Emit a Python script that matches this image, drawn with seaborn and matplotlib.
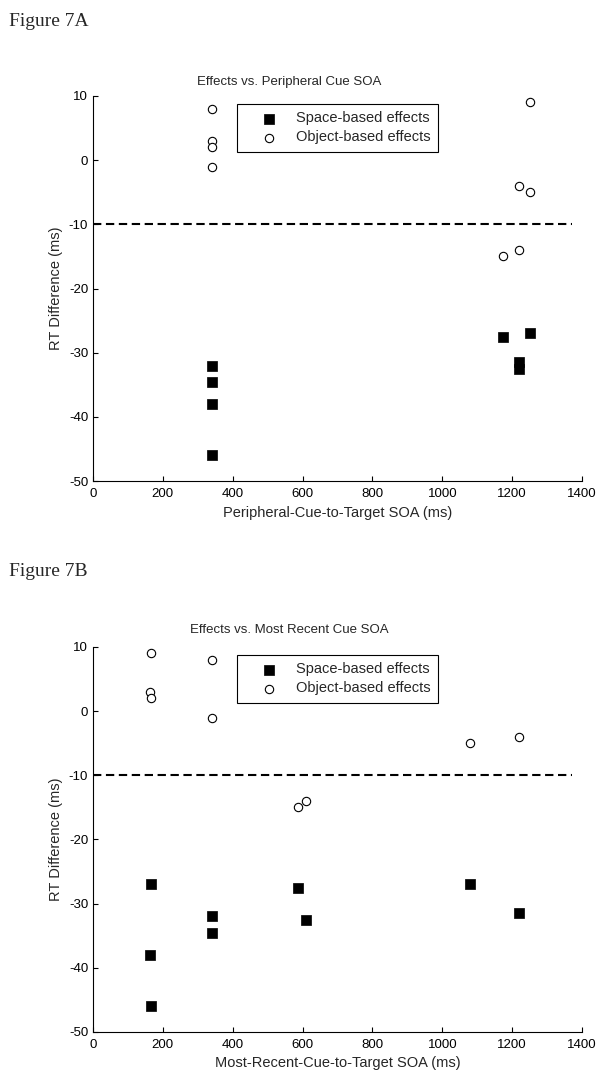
import matplotlib
matplotlib.use("Agg")
import matplotlib.pyplot as plt
import seaborn as sns
import pandas as pd

# ---------------- data ----------------
# Figure 7A: effects vs. peripheral cue SOA
a_space_soa = [340, 340, 340, 340, 1175, 1250, 1220, 1220]
a_space_rt = [-32, -34.5, -38, -46, -27.5, -27, -31.5, -32.5]
a_object_soa = [340, 340, 340, 340, 1250, 1220, 1250, 1175, 1220]
a_object_rt = [8, 3, 2, -1, 9, -4, -5, -15, -14]

# Figure 7B: effects vs. most recent cue SOA
b_space_soa = [167, 162, 167, 340, 340, 587, 609, 1078, 1220]
b_space_rt = [-27, -38, -46, -32, -34.5, -27.5, -32.5, -27, -31.5]
b_object_soa = [167, 162, 167, 340, 340, 587, 609, 1078, 1220]
b_object_rt = [9, 3, 2, 8, -1, -15, -14, -5, -4]

ref_rt = -10
ref_soa_range = [0, 1370]

x_ticks = [0, 200, 400, 600, 800, 1000, 1200, 1400]
y_ticks = [-50, -40, -30, -20, -10, 0, 10]

legend_labels = ["Space-based effects", "Object-based effects"]
panel_names = ["Figure 7A", "Figure 7B"]
titles = ["Effects vs. Peripheral Cue SOA", "Effects vs. Most Recent Cue SOA"]
xlabels = ["Peripheral-Cue-to-Target SOA (ms)", "Most-Recent-Cue-to-Target SOA (ms)"]
ylabel = "RT Difference (ms)"

# ---------------- style ----------------
sns.set_style("ticks")
plt.rcParams["font.family"] = ["Liberation Sans", "DejaVu Sans"]
plt.rcParams["font.size"] = 9.5
plt.rcParams["axes.unicode_minus"] = False

W, H = 604, 1077
fig = plt.figure(figsize=(W / 100, H / 100), dpi=100)

panels = [
    (a_space_soa, a_space_rt, a_object_soa, a_object_rt),
    (b_space_soa, b_space_rt, b_object_soa, b_object_rt),
]
# pixel geometry of each axes: left, right, top, bottom
geoms = [(93, 582, 96, 481), (93, 582, 647, 1032)]
fig_label_y = [22, 572]
title_y = [82, 630]

for i, (ssoa, srt, osoa, ort) in enumerate(panels):
    l, r, t, b = geoms[i]
    ax = fig.add_axes([l / W, 1 - b / H, (r - l) / W, (b - t) / H])
    df_s = pd.DataFrame({"soa": ssoa, "rt": srt})
    df_o = pd.DataFrame({"soa": osoa, "rt": ort})

    ax.plot(ref_soa_range, [ref_rt, ref_rt], color="black", lw=1.5,
            dashes=(4, 2.2), zorder=1)
    sns.scatterplot(data=df_s, x="soa", y="rt", ax=ax, marker="s", s=46,
                    color="black", edgecolor="black", linewidth=0.5,
                    label=legend_labels[0], zorder=3)
    sns.scatterplot(data=df_o, x="soa", y="rt", ax=ax, marker="o", s=36,
                    facecolor="white", edgecolor="black", linewidth=0.8,
                    label=legend_labels[1], zorder=3)

    ax.set_xlim(0, 1400)
    ax.set_ylim(-50, 10)
    ax.set_xticks(x_ticks)
    ax.set_yticks(y_ticks)
    ax.tick_params(direction="in", length=3.6, width=0.8, colors="black",
                   labelsize=9.5, pad=3.5)
    ax.tick_params(axis="x", pad=5)
    for side in ["top", "right"]:
        ax.spines[side].set_visible(False)
    for side in ["left", "bottom"]:
        ax.spines[side].set_linewidth(0.8)
        ax.spines[side].set_color("black")
    ax.set_xlabel(xlabels[i], fontsize=10.5, labelpad=4)
    ax.set_ylabel(ylabel, fontsize=10.5, labelpad=4)

    leg = ax.legend(loc="upper left", bbox_to_anchor=(0.295, 0.979),
                    borderaxespad=0, frameon=True, fancybox=False,
                    edgecolor="black", framealpha=1, fontsize=10.5,
                    handletextpad=0.1, borderpad=0.5, labelspacing=0.35,
                    handlelength=3.4)
    leg.get_frame().set_linewidth(0.8)

    fig.text(289 / W, 1 - title_y[i] / H, titles[i], ha="center",
             va="center", fontsize=9.5)
    fig.text(9 / W, 1 - fig_label_y[i] / H, panel_names[i], ha="left",
             va="center", fontsize=14,
             family=["Liberation Serif", "DejaVu Serif"])

fig.savefig("out.png", dpi=100, facecolor="white")
